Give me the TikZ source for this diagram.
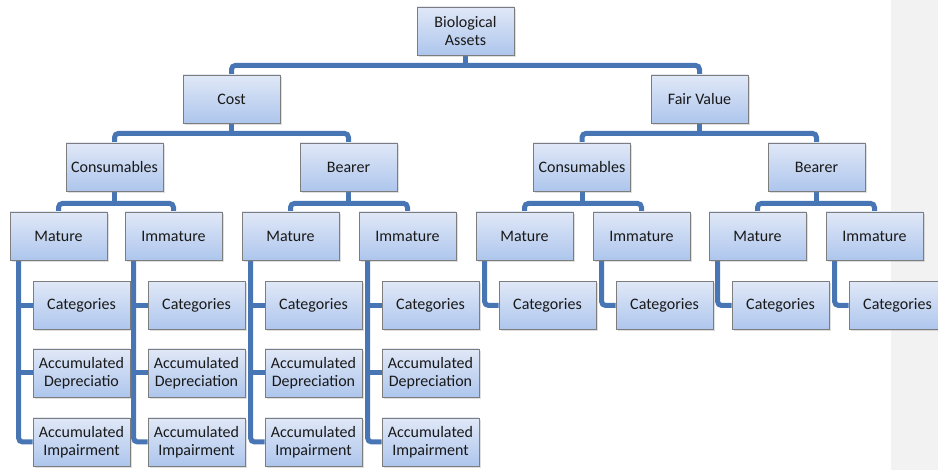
\documentclass[tikz,border=0pt]{standalone}
\usepackage{fontspec}
\setmainfont{Carlito}
\usetikzlibrary{shadows,backgrounds,calc}
\definecolor{connc}{RGB}{72,118,180}
\definecolor{boxtop}{RGB}{224,232,247}
\definecolor{boxbot}{RGB}{174,198,237}
\definecolor{boxline}{RGB}{125,125,125}
\definecolor{stripc}{RGB}{242,242,242}
\definecolor{txt}{RGB}{25,25,25}
\begin{document}
\begin{tikzpicture}[x=1pt,y=-1pt,
  box/.style={draw=boxline, line width=0.8pt, top color=boxtop, bottom color=boxbot,
    minimum width=97pt, minimum height=48pt, inner sep=2pt, align=center,
    font=\fontsize{16}{17.5}\selectfont, text=txt,
    drop shadow={shadow xshift=1.5pt, shadow yshift=-2pt, opacity=0.25}},
  connl/.style={draw=connc, line width=5pt, rounded corners=4pt}]
\useasboundingbox (0,0) rectangle (938,470);
\clip (0,0) rectangle (938,470);

% level 0-2
\node[box] (bio) at (465.5,31) {Biological\\Assets};
\node[box] (cost) at (231.5,99) {Cost};
\node[box] (fv) at (699.5,99) {Fair Value};
\node[box] (c1) at (114.5,167) {Consumables};
\node[box] (b1) at (348.5,167) {Bearer};
\node[box] (c2) at (582,167) {Consumables};
\node[box] (b2) at (816.5,167) {Bearer};

% level 3
\foreach \n/\x/\t in {m1/58.5/Mature, i1/173.5/Immature, m2/290.5/Mature, i2/407.5/Immature,
                      m3/524.5/Mature, i3/641.5/Immature, m4/757.5/Mature, i4/874.5/Immature}
  \node[box] (\n) at (\x,236) {\t};

% level 4 (cost side)
\foreach \n/\d in {m1/Depreciatio, i1/Depreciation, m2/Depreciation, i2/Depreciation}{
  \node[box] (\n-c) at ([xshift=23pt,yshift=-69.5pt]\n.center) {Categories};
  \node[box] (\n-d) at ([xshift=23pt,yshift=-137pt]\n.center) {Accumulated\\\d};
  \node[box] (\n-i) at ([xshift=23pt,yshift=-206pt]\n.center) {Accumulated\\Impairment};
}
% level 4 (fair value side)
\foreach \n in {m3,i3,m4,i4}
  \node[box] (\n-c) at ([xshift=23pt,yshift=-69.5pt]\n.center) {Categories};

\begin{scope}[on background layer]
  \fill[stripc] (891,0) rectangle (938,470);
  % level 0 -> 1
  \draw[connl] (cost.north) |- ($(bio.south)+(0,10)$) -| (fv.north);
  \draw[connl] (bio.south) -- ++(0,10);
  % level 1 -> 2
  \draw[connl] (c1.north) |- ($(cost.south)+(0,10)$) -| (b1.north);
  \draw[connl] (cost.south) -- ++(0,10);
  \draw[connl] (c2.north) |- ($(fv.south)+(0,10)$) -| (b2.north);
  \draw[connl] (fv.south) -- ++(0,10);
  % level 2 -> 3
  \foreach \p/\a/\b in {c1/m1/i1, b1/m2/i2, c2/m3/i3, b2/m4/i4}{
    \draw[connl] (\a.north) |- ($(\p.south)+(0,12)$) -| (\b.north);
    \draw[connl] (\p.south) -- ++(0,12);
  }
  % level 3 -> 4 (cost side)
  \foreach \n in {m1,i1,m2,i2}{
    \coordinate (\n-x) at ([xshift=9pt]\n.south west);
    \draw[connl] (\n-x) |- (\n-i.west);
    \draw[connl] (\n-x |- \n-c.west) -- (\n-c.west);
    \draw[connl] (\n-x |- \n-d.west) -- (\n-d.west);
  }
  % level 3 -> 4 (fair value side)
  \foreach \n in {m3,i3,m4,i4}{
    \coordinate (\n-x) at ([xshift=9pt]\n.south west);
    \draw[connl] (\n-x) |- (\n-c.west);
  }
\end{scope}
\end{tikzpicture}
\end{document}
